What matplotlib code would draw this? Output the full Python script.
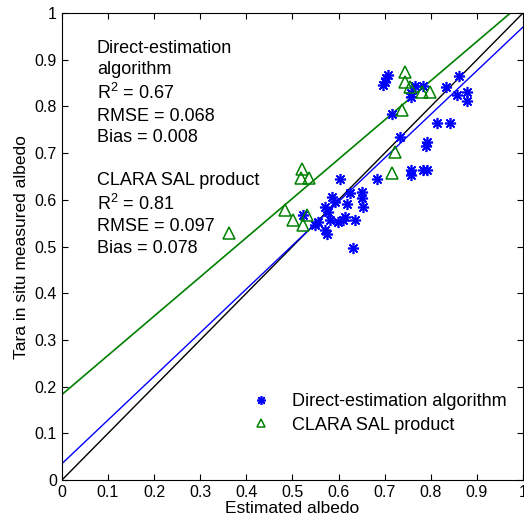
import matplotlib
matplotlib.use("Agg")
import matplotlib.pyplot as plt
import numpy as np

plt.rcParams['font.family'] = ['Liberation Sans', 'DejaVu Sans']

# Direct-estimation algorithm (blue asterisks)
direct_x = [0.696, 0.700, 0.704, 0.708, 0.717, 0.758, 0.758, 0.766, 0.784,
            0.834, 0.862, 0.879, 0.856, 0.878, 0.813, 0.842, 0.733, 0.792,
            0.790, 0.758, 0.758, 0.784, 0.792, 0.683, 0.652, 0.652, 0.654,
            0.603, 0.625, 0.585, 0.592, 0.618, 0.571, 0.578, 0.614, 0.610,
            0.599, 0.636, 0.581, 0.556, 0.549, 0.571, 0.574, 0.523, 0.632]
direct_y = [0.845, 0.852, 0.860, 0.868, 0.784, 0.828, 0.820, 0.844, 0.844,
            0.842, 0.866, 0.832, 0.825, 0.812, 0.765, 0.765, 0.735, 0.724,
            0.715, 0.664, 0.654, 0.664, 0.664, 0.644, 0.617, 0.605, 0.585,
            0.644, 0.615, 0.607, 0.596, 0.592, 0.585, 0.575, 0.564, 0.557,
            0.553, 0.557, 0.557, 0.553, 0.546, 0.535, 0.528, 0.567, 0.496]

# CLARA SAL product (green triangles)
clara_x = [0.362, 0.520, 0.518, 0.535, 0.484, 0.502, 0.531, 0.524, 0.715,
           0.744, 0.744, 0.755, 0.780, 0.798, 0.737, 0.722]
clara_y = [0.529, 0.667, 0.646, 0.646, 0.578, 0.557, 0.567, 0.546, 0.657,
           0.874, 0.853, 0.842, 0.831, 0.831, 0.792, 0.703]

# Regression lines (intercept, slope)
direct_fit = (0.035, 0.935)
clara_fit = (0.183, 0.840)

xticks = [0, 0.1, 0.2, 0.3, 0.4, 0.5, 0.6, 0.7, 0.8, 0.9, 1]
xticklabels = ['0', '0.1', '0.2', '0.3', '0.4', '0.5', '0.6', '0.7', '0.8', '0.9', '1']

stats_text = ("Direct-estimation\nalgorithm\n$\\mathregular{R^2}$ = 0.67\nRMSE = 0.068\nBias = 0.008\n\n"
              "CLARA SAL product\n$\\mathregular{R^2}$ = 0.81\nRMSE = 0.097\nBias = 0.078")

fig = plt.figure(figsize=(5.24, 5.23), dpi=100)
ax = fig.add_axes([0.118, 0.082, 0.880, 0.893])

xl = np.array([0.0, 1.0])
ax.plot(xl, xl, color='black', lw=1.0)
ax.plot(xl, direct_fit[0] + direct_fit[1] * xl, color='blue', lw=1.0)
ax.plot(xl, clara_fit[0] + clara_fit[1] * xl, color='green', lw=1.2)

ax.plot(direct_x, direct_y, linestyle='none', marker=(8, 2, 0), color='blue',
        markersize=8, markeredgewidth=1.2, label='Direct-estimation algorithm')
ax.plot(clara_x, clara_y, linestyle='none', marker='^', markerfacecolor='none',
        markeredgecolor='green', markeredgewidth=1.1, markersize=8,
        label='CLARA SAL product')

ax.set_xlim(0, 1)
ax.set_ylim(0, 1)
ax.set_xticks(xticks)
ax.set_xticklabels(xticklabels)
ax.set_yticks(xticks)
ax.set_yticklabels(xticklabels)
ax.tick_params(direction='in', labelsize=11.5, length=4, top=True, right=True)
ax.set_xlabel('Estimated albedo', fontsize=12.5, labelpad=1)
ax.set_ylabel('Tara in situ measured albedo', fontsize=12.5, labelpad=4)

ax.text(0.076, 0.943, stats_text, transform=ax.transAxes, fontsize=13,
        va='top', ha='left', linespacing=1.33)

ax.legend(loc='lower right', bbox_to_anchor=(1.0, 0.065), frameon=False,
          fontsize=13, handletextpad=0.9, handlelength=1.6, labelspacing=0.35,
          markerscale=0.8)

fig.savefig('out.png', dpi=100)
